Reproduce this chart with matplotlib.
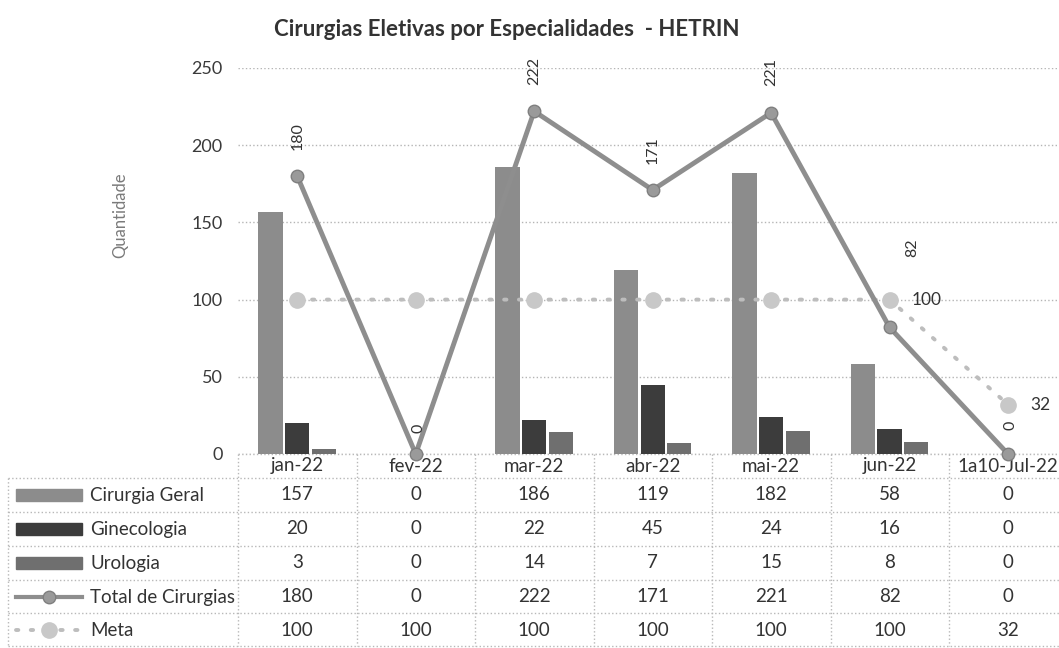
import numpy as np
import matplotlib
matplotlib.use('Agg')
import matplotlib.pyplot as plt
from matplotlib.transforms import blended_transform_factory
from matplotlib.patches import Rectangle

plt.rcParams['font.family'] = ['Lato', 'DejaVu Sans']

meses = ['jan-22', 'fev-22', 'mar-22', 'abr-22', 'mai-22', 'jun-22', '1a10-Jul-22']
cirurgia_geral = [157, 0, 186, 119, 182, 58, 0]
ginecologia = [20, 0, 22, 45, 24, 16, 0]
urologia = [3, 0, 14, 7, 15, 8, 0]
total = [180, 0, 222, 171, 221, 82, 0]
meta = [100, 100, 100, 100, 100, 100, 32]

W, H = 1059, 648
fig = plt.figure(figsize=(W / 100, H / 100), dpi=100)

# fundo em pixels para a tabela de dados
bg = fig.add_axes([0, 0, 1, 1])
bg.set_xlim(0, W)
bg.set_ylim(H, 0)
bg.axis('off')

ax = fig.add_axes([238 / W, 1 - 454 / H, (W - 238) / W, (454 - 68) / H])
ax.patch.set_alpha(0)

x = np.arange(len(meses))
cores = ['#8c8c8c', '#3c3c3c', '#6f6f6f']
larg = 0.205
desl = 0.225
ax.bar(x - desl, cirurgia_geral, larg, color=cores[0], zorder=2)
ax.bar(x, ginecologia, larg, color=cores[1], zorder=2)
ax.bar(x + desl, urologia, larg, color=cores[2], zorder=2)

cor_meta = '#bdbdbd'
cor_total = '#8e8e8e'
estilo_meta = (0, (0.6, 3.2))
ax.plot(x, meta, color=cor_meta, lw=2.8, ls=estilo_meta, dash_capstyle='round',
        marker='o', ms=11, mfc='#c8c8c8', mec='#c8c8c8', zorder=3, clip_on=False)
ax.plot(x, total, color=cor_total, lw=3.5, marker='o', ms=9, mfc='#9a9a9a',
        mec='#7f7f7f', zorder=4, clip_on=False)

# rotulos do total (rotacionados)
desl_total = [(0, 19), (2, 15), (0, 19), (0, 19), (0, 19), (16, 51), (2, 17)]
for xi, v, off in zip(x, total, desl_total):
    ax.annotate(str(v), (xi, v), xytext=off, textcoords='offset points',
                rotation=90, ha='center', va='bottom', fontsize=11.5,
                color='#333333', zorder=5)

# rotulos da meta so nos dois ultimos
for i in [5, 6]:
    ax.annotate(str(meta[i]), (x[i], meta[i]), xytext=(16, 0),
                textcoords='offset points', ha='left', va='center',
                fontsize=12.5, color='#333333', zorder=5)

ax.set_xlim(-0.5, 6.43)
ax.set_ylim(0, 250)
ax.set_yticks(range(0, 251, 50))
ax.set_xticks([])
ax.tick_params(axis='y', length=0, pad=11, labelsize=13, labelcolor='#3a3a3a')
ax.yaxis.grid(True, ls=':', color='#b5b5b5', lw=1)
ax.set_axisbelow(True)
for s in ax.spines.values():
    s.set_visible(False)

fig.text(507 / W, 1 - 29 / H, 'Cirurgias Eletivas por Especialidades  - HETRIN',
         fontsize=16, weight='bold', ha='center', va='center', color='#333333')
fig.text(120 / W, 1 - 215 / H, 'Quantidade', rotation=90, fontsize=12,
         color='#7a7a7a', ha='center', va='center')

# tabela
lc = '#b8b8b8'
bordas_linhas = [478, 512, 546, 580, 613, 646]
for y in bordas_linhas:
    bg.plot([8, W], [y, y], ls=':', color=lc, lw=1)
bg.plot([238, W], [454, 454], ls=':', color=lc, lw=1)
for k in range(8):
    xe = 238 + 118.5 * k
    if xe <= W:
        bg.plot([xe, xe], [454, 646], ls=':', color=lc, lw=1)
bg.plot([8, 8], [478, 646], ls=':', color=lc, lw=1)

trans = blended_transform_factory(ax.transData, bg.transData)
for xi, m in zip(x, meses):
    bg.text(xi, 466, m, transform=trans, ha='center', va='center',
            fontsize=13.5, color='#333333')

nomes = ['Cirurgia Geral', 'Ginecologia', 'Urologia', 'Total de Cirurgias', 'Meta']
series = [cirurgia_geral, ginecologia, urologia, total, meta]
centros = [495, 529, 563, 597, 630]
for j, (nome, serie, yc) in enumerate(zip(nomes, series, centros)):
    if j < 3:
        bg.add_patch(Rectangle((16, yc - 6), 66, 12, color=cores[j]))
    elif j == 3:
        bg.plot([16, 82], [yc, yc], color=cor_total, lw=3)
        bg.plot([49], [yc], marker='o', ms=9, mfc='#9a9a9a', mec='#7f7f7f')
    else:
        bg.plot([16, 82], [yc, yc], color=cor_meta, lw=2.8, ls=estilo_meta,
                dash_capstyle='round')
        bg.plot([49], [yc], marker='o', ms=11, mfc='#c8c8c8', mec='#c8c8c8')
    bg.text(90, yc, nome, ha='left', va='center', fontsize=13.5, color='#333333')
    for xi, v in zip(x, serie):
        bg.text(xi, yc, str(v), transform=trans, ha='center', va='center',
                fontsize=13.5, color='#333333')

fig.savefig('out.png', dpi=100, facecolor='white')
